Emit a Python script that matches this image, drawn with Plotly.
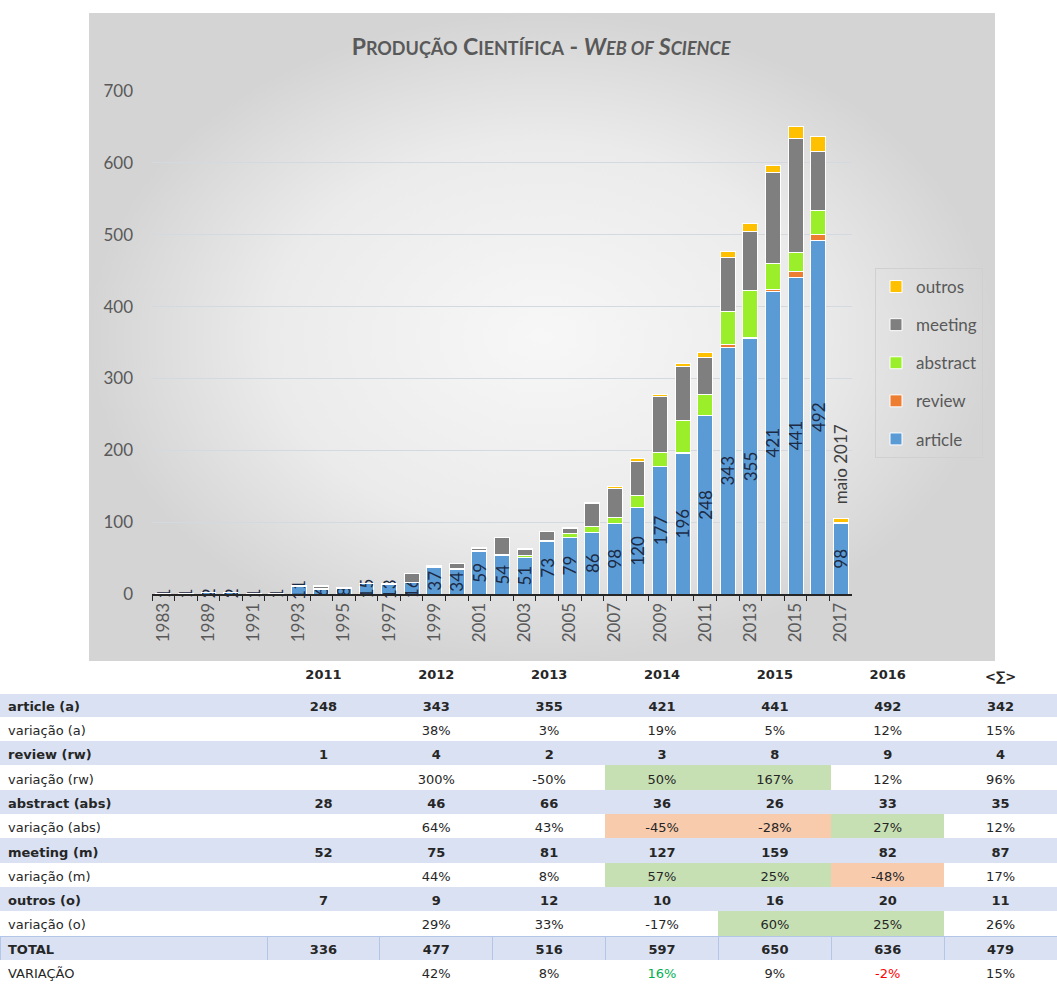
import plotly.graph_objects as go

# ---------------- chart data ----------------
years = ['1983', '1988', '1989', '1990', '1991', '1992', '1993', '1994', '1995', '1996',
         '1997', '1998', '1999', '2000', '2001', '2002', '2003', '2004', '2005', '2006',
         '2007', '2008', '2009', '2010', '2011', '2012', '2013', '2014', '2015', '2016', '2017']
article = [1, 1, 2, 2, 1, 1, 11, 6, 8, 15, 13, 16, 37, 34, 59, 54, 51, 73, 79, 86,
           98, 120, 177, 196, 248, 343, 355, 421, 441, 492, 98]
review = [0, 0, 0, 0, 0, 0, 0, 0, 0, 0, 0, 0, 0, 0, 0, 0, 0, 0, 0, 0,
          0, 1, 0, 1, 1, 4, 2, 3, 8, 9, 0]
abstract = [0, 0, 0, 0, 0, 0, 1, 1, 0, 0, 0, 0, 1, 1, 1, 1, 2, 2, 5, 8,
            9, 16, 20, 45, 28, 46, 66, 36, 26, 33, 1]
meeting = [0, 0, 0, 0, 0, 0, 0, 3, 1, 0, 0, 13, 0, 8, 3, 24, 9, 12, 7, 32,
           40, 47, 78, 74, 52, 75, 81, 127, 159, 82, 1]
outros = [0, 0, 0, 0, 0, 0, 0, 2, 0, 0, 1, 0, 1, 0, 2, 0, 2, 0, 1, 2,
          2, 4, 3, 5, 7, 9, 12, 10, 16, 20, 5]
partial_note = 'maio 2017'

# ---------------- table data ----------------
table_years = ['2011', '2012', '2013', '2014', '2015', '2016']
row_labels = ['article (a)', 'variação (a)', 'review (rw)', 'variação (rw)',
              'abstract (abs)', 'variação (abs)', 'meeting (m)', 'variação (m)',
              'outros (o)', 'variação (o)', 'TOTAL', 'VARIAÇÃO']
sigma_label = '<∑>'
sigma_col = ['342', '15%', '4', '96%', '35', '12%', '87', '17%', '11', '26%', '479', '15%']
green_cells = {('variação (rw)', '2014'), ('variação (rw)', '2015'),
               ('variação (abs)', '2016'), ('variação (m)', '2014'),
               ('variação (m)', '2015'), ('variação (o)', '2015'), ('variação (o)', '2016')}
orange_cells = {('variação (abs)', '2014'), ('variação (abs)', '2015'), ('variação (m)', '2016')}
total_font_colors = {'2014': '#00B050', '2016': '#FF0000'}

# ---------------- styles ----------------
W, H = 1057, 985
COL = dict(article='#5B9BD5', review='#ED7D31', abstract='#9BEF2A',
           meeting='#7F7F7F', outros='#FFC000')
FONT = 'Lato'
GREY = '#595959'
BLUE_ROW = '#D9E1F2'
GREEN = '#C6E0B4'
ORANGE = '#F8CBAD'
TFONT = 'DejaVu Sans'
TSIZE = 13
TXT = '#262626'
CLEAR = 'rgba(0,0,0,0)'

def px_x(p):
    return p / W

def px_y(p):
    return 1 - p / H

fig = go.Figure()

# background panel of the chart (radial grey gradient)
bx0, bx1, by0, by1 = px_x(89), px_x(995), px_y(662), px_y(13)
fig.add_trace(go.Scatter(
    x=[bx0, bx1, bx1, bx0, bx0], y=[by0, by0, by1, by1, by0],
    mode='lines', fill='toself', line=dict(width=0),
    fillgradient=dict(type='radial', colorscale=[[0, '#f7f7f7'], [0.6, '#ebebeb'], [1, '#d4d4d4']]),
    hoverinfo='skip', showlegend=False, xaxis='x', yaxis='y'))

series = [('article', article), ('review', review), ('abstract', abstract),
          ('meeting', meeting), ('outros', outros)]
for rank, (name, vals) in enumerate(series):
    kw = {}
    if name == 'article':
        kw = dict(text=[str(v) for v in vals], textposition='inside',
                  insidetextanchor='middle', textangle=-90, constraintext='none',
                  textfont=dict(family=FONT, size=17, color='#1c2a44'))
    fig.add_trace(go.Bar(
        x=years, y=vals, name=name, legendgroup=name, legendrank=len(series) - rank,
        marker=dict(color=COL[name], line=dict(color='white', width=1)),
        xaxis='x2', yaxis='y2', hoverinfo='x+y+name', cliponaxis=False, **kw))

last = len(years) - 1
total_last = article[last] + review[last] + abstract[last] + meeting[last] + outros[last]
fig.add_annotation(x=last, y=total_last, xref='x2', yref='y2', text=partial_note,
                   textangle=-90, yanchor='bottom', yshift=12, showarrow=False,
                   font=dict(family=FONT, size=17, color='#404040'))

S = "<span style='font-size:18px'>%s</span>"
title = ("<b>P" + S % "RODUÇÃO" + " C" + S % "IENTÍFICA" +
         " - <i>W" + S % "EB OF" + " S" + S % "CIENCE" + "</i></b>")

# ---------------- table ----------------
totals = [a + r + b + m + o for a, r, b, m, o in zip(article, review, abstract, meeting, outros)]

def pct(cur, prev):
    return f"{round((cur / prev - 1) * 100)}%"

def nb(s):
    return s.replace(' ', '\u00a0')

row_fill = [BLUE_ROW if i % 2 == 0 else 'white' for i in range(12)]

val_text, val_fill, val_font = [], [], []
for y in table_years:
    i = years.index(y)
    colv, fills, fonts = [], [], []
    for arr in [article, review, abstract, meeting, outros, totals]:
        colv.append('%d' % arr[i])
        colv.append(pct(arr[i], arr[i - 1]) if y != table_years[0] else '')
    for r, lab in enumerate(row_labels):
        if (lab, y) in green_cells:
            fills.append(GREEN)
        elif (lab, y) in orange_cells:
            fills.append(ORANGE)
        else:
            fills.append(row_fill[r])
        fonts.append(total_font_colors.get(y, TXT) if lab == 'VARIAÇÃO' else TXT)
    val_text.append(colv)
    val_fill.append(fills)
    val_font.append(fonts)
val_text.append(list(sigma_col))
val_fill.append(list(row_fill))
val_font.append([TXT] * 12)

def split(cols):
    bold = [[t if r % 2 == 0 else '' for r, t in enumerate(c)] for c in cols]
    norm = [[t if r % 2 == 1 else '' for r, t in enumerate(c)] for c in cols]
    return bold, norm

def lines(fills):
    out = []
    for c in fills:
        lc = list(c)
        lc[10] = '#B4C6E7'
        out.append(lc)
    return out

HDR_H, ROW_H = 32, 24.3
ty = [0, px_y(661)]
split_x = px_x(267)

def add_table(xdom, header_vals, text_cols, fills, fonts, align):
    bold, norm = split(text_cols)
    fig.add_trace(go.Table(
        domain=dict(x=xdom, y=ty),
        header=dict(values=header_vals, fill_color='white', line=dict(color='white', width=1),
                    align=align, font=dict(family=TFONT, size=TSIZE, color=TXT, weight='bold'),
                    height=HDR_H),
        cells=dict(values=bold, fill=dict(color=fills), line=dict(color=lines(fills), width=1),
                   align=align, font=dict(family=TFONT, size=TSIZE, color=fonts, weight='bold'),
                   height=ROW_H)))
    fig.add_trace(go.Table(
        domain=dict(x=xdom, y=ty),
        header=dict(values=[''] * len(header_vals), fill_color=CLEAR,
                    line=dict(color=CLEAR, width=1), align=align,
                    font=dict(family=TFONT, size=TSIZE, color=TXT, weight='bold'), height=HDR_H),
        cells=dict(values=norm, fill=dict(color=CLEAR), line=dict(color=CLEAR, width=1),
                   align=align, font=dict(family=TFONT, size=TSIZE, color=fonts, weight='normal'),
                   height=ROW_H)))

add_table([0, split_x], [''], [[nb(l) for l in row_labels]], [list(row_fill)], [[TXT] * 12], 'left')
add_table([split_x, 1], table_years + [sigma_label], val_text, val_fill, val_font, 'center')

fig.update_layout(
    width=W, height=H, margin=dict(l=0, r=0, t=0, b=0, autoexpand=False),
    paper_bgcolor='white', plot_bgcolor='rgba(0,0,0,0)',
    barmode='stack', bargap=0.34,
    title=dict(text=title, x=px_x(541), y=px_y(47), xanchor='center', yanchor='middle',
               font=dict(family=FONT, size=23, color=GREY)),
    xaxis=dict(domain=[0, 1], range=[0, 1], visible=False, fixedrange=True, automargin=False),
    yaxis=dict(domain=[0, 1], range=[0, 1], visible=False, fixedrange=True, automargin=False),
    xaxis2=dict(domain=[px_x(152), px_x(852)], anchor='y2', type='category',
                range=[-0.5, len(years) - 0.5], automargin=False,
                tickmode='array', tickvals=years,
                ticktext=[y if i % 2 == 0 else '' for i, y in enumerate(years)],
                tickangle=-90, tickson='boundaries', ticks='outside', ticklen=5,
                tickcolor='#262626', showline=True, linecolor='#262626', linewidth=2,
                tickfont=dict(family=FONT, size=17, color=GREY), showgrid=False),
    yaxis2=dict(domain=[px_y(594), px_y(91)], anchor='x2', range=[0, 700], dtick=100,
                automargin=False, showgrid=True, gridcolor='#d3d9de', gridwidth=1,
                zeroline=False, showline=False, ticks='', ticklabelstandoff=18,
                tickfont=dict(family=FONT, size=17, color=GREY)),
    legend=dict(x=px_x(875), y=px_y(268), xanchor='left', yanchor='top',
                bgcolor='rgba(0,0,0,0)', bordercolor='#d0d0d0', borderwidth=1,
                traceorder='grouped', tracegroupgap=13,
                font=dict(family=FONT, size=17, color=GREY)),
)

fig.write_html("out.html", config={'displayModeBar': False},
               post_script="document.body.style.margin='0';")
